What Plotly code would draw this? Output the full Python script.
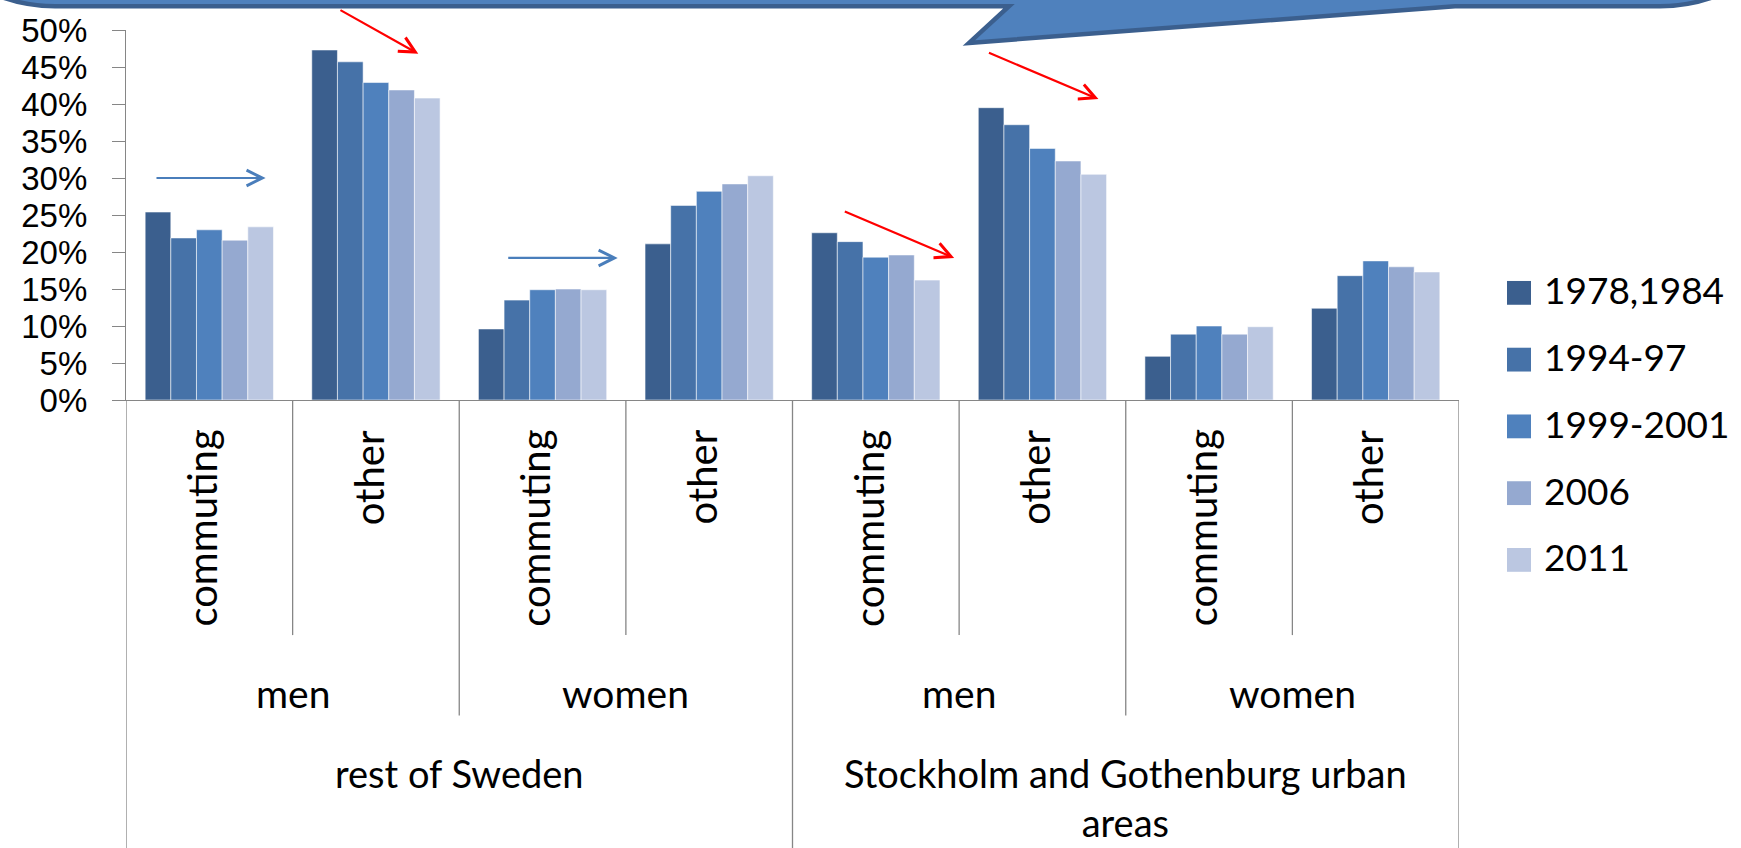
import plotly.graph_objects as go

# ---- data -------------------------------------------------------------
regions = ["rest of Sweden", "Stockholm and Gothenburg urban<br>areas"]
genders = ["men", "women"]
purposes = ["commuting", "other"]

series_names = ["1978,1984", "1994-97", "1999-2001", "2006", "2011"]
series_colors = ["#3B5F8E", "#4672A8", "#4F81BD", "#95A9D0", "#BBC7E1"]

# share of trips (%) per category: region > gender > purpose
share_1978_1984 = [25.4, 47.3, 9.6, 21.1, 22.6, 39.5, 5.9, 12.4]
share_1994_97 = [21.9, 45.7, 13.5, 26.3, 21.4, 37.2, 8.9, 16.8]
share_1999_2001 = [23.0, 42.9, 14.9, 28.2, 19.3, 34.0, 10.0, 18.8]
share_2006 = [21.6, 41.9, 15.0, 29.2, 19.6, 32.3, 8.9, 18.0]
share_2011 = [23.4, 40.8, 14.9, 30.3, 16.2, 30.5, 9.9, 17.3]

series_values = [share_1978_1984, share_1994_97, share_1999_2001, share_2006, share_2011]

y_ticks = [0, 5, 10, 15, 20, 25, 30, 35, 40, 45, 50]

# ---- page geometry ------------------------------------------------------
W, H = 1741, 848
ML, MR, MT, MB = 126, 282, 27, 448
PW, PH = W - ML - MR, H - MT - MB
FONT = "Lato, Carlito, Calibri, sans-serif"
TICK_FONT = "Liberation Sans, Arial, sans-serif"
AXIS_GREY = "#868686"


def px(x):
    return (x - ML) / PW


def py(y):
    return (H - MB - y) / PH


n_cat = len(regions) * len(genders) * len(purposes)
cat_pos = list(range(n_cat))

fig = go.Figure()
for name, color, vals in zip(series_names, series_colors, series_values):
    fig.add_trace(go.Bar(
        x=cat_pos, y=vals, name=name, showlegend=False,
        marker=dict(color=color, line=dict(color="rgba(255,255,255,0.55)", width=1)),
    ))

shapes = []
annotations = []

# category divider lines below the axis (three levels)
per_gender = len(purposes)
per_region = len(purposes) * len(genders)
for b in range(n_cat + 1):
    if b % per_region == 0:
        y_end = py(H + 20)
    elif b % per_gender == 0:
        y_end = py(718)
    else:
        y_end = py(637)
    shapes.append(dict(type="line", xref="x", yref="paper", x0=b - 0.5, x1=b - 0.5,
                       y0=0, y1=y_end, line=dict(color=AXIS_GREY, width=1.3)))

# purpose labels (rotated)
for i in cat_pos:
    annotations.append(dict(text=purposes[i % len(purposes)], x=i, xref="x", xshift=-7,
                            y=py(428), yref="paper",
                            textangle=-90, xanchor="center", yanchor="top", showarrow=False,
                            font=dict(family=FONT, size=40, color="black")))
# gender labels
for j in range(len(regions) * len(genders)):
    annotations.append(dict(text=genders[j % len(genders)], x=j * per_gender + (per_gender - 1) / 2,
                            xref="x", y=py(670), yref="paper", xanchor="center", yanchor="top",
                            showarrow=False, font=dict(family=FONT, size=39, color="black")))
# region labels
for k, reg in enumerate(regions):
    annotations.append(dict(text=reg, x=k * per_region + (per_region - 1) / 2, xref="x",
                            y=py(752), yref="paper", xanchor="center", yanchor="top",
                            showarrow=False, borderpad=0,
                            font=dict(family=FONT, size=38, color="black")))

# legend
leg_x0, leg_y0, leg_step, leg_box = 1507, 292, 67.3, 24
for i, (name, color) in enumerate(zip(series_names, series_colors)):
    cy = leg_y0 + i * leg_step
    shapes.append(dict(type="rect", xref="paper", yref="paper",
                       x0=px(leg_x0), x1=px(leg_x0 + leg_box),
                       y0=py(cy + leg_box / 2), y1=py(cy - leg_box / 2),
                       fillcolor=color, line=dict(width=0)))
    annotations.append(dict(text=name, x=px(leg_x0 + 35), y=py(cy - 3), xref="paper", yref="paper",
                            xanchor="left", yanchor="middle", showarrow=False,
                            font=dict(family=FONT, size=37, color="black")))

# speech-bubble callout along the top edge
path = (
    f"M{px(-100)},{py(-320)} L{px(-100)},{py(-151)} "
    f"C{px(-100)},{py(-65)} {px(-31)},{py(3)} {px(55)},{py(3)} "
    f"L{px(1009)},{py(3)} L{px(969)},{py(40)} L{px(1455)},{py(3)} L{px(1660)},{py(3)} "
    f"C{px(1746)},{py(3)} {px(1815)},{py(-65)} {px(1815)},{py(-151)} "
    f"L{px(1815)},{py(-320)} Z"
)
shapes.append(dict(type="path", xref="paper", yref="paper", path=path,
                   fillcolor="#4F81BD", line=dict(color="#3B5F8E", width=4.5), layer="above"))

# trend arrows (tail x, tail y, head x, head y, colour)
RED, BLUE = "#FF0000", "#4A7EBB"
trend_arrows = [
    (0.778, 52.8, 1.254, 46.8, RED),
    (4.67, 47.0, 5.336, 40.66, RED),
    (3.805, 25.56, 4.47, 19.2, RED),
    (-0.326, 30.0, 0.338, 30.0, BLUE),
    (1.785, 19.2, 2.451, 19.2, BLUE),
]
for tx, ty, hx, hy, col in trend_arrows:
    annotations.append(dict(text="", x=hx, y=hy, xref="x", yref="y", ax=tx, ay=ty,
                            axref="x", ayref="y", showarrow=True, arrowhead=5, arrowsize=1.4,
                            arrowwidth=2.2, arrowcolor=col, standoff=0))

fig.update_layout(
    width=W, height=H,
    margin=dict(l=ML, r=MR, t=MT, b=MB, pad=0),
    paper_bgcolor="white", plot_bgcolor="white",
    barmode="group", bargap=0.23, bargroupgap=0,
    showlegend=False,
    font=dict(family=FONT, color="black"),
    shapes=shapes, annotations=annotations,
    xaxis=dict(range=[-0.5, n_cat - 0.5], showticklabels=False, ticks="", showgrid=False,
               zeroline=False, showline=True, linecolor=AXIS_GREY, linewidth=1.3, fixedrange=True),
    yaxis=dict(range=[0, 50], tickvals=y_ticks, ticktext=[f"{v}%" for v in y_ticks],
               ticks="outside", ticklen=13, tickwidth=1.3, tickcolor=AXIS_GREY,
               showline=True, linecolor=AXIS_GREY, linewidth=1.3, showgrid=False, zeroline=False,
               tickfont=dict(family=TICK_FONT, size=33, color="black"), ticklabelstandoff=18,
               fixedrange=True),
)

fig.write_html("out.html")
